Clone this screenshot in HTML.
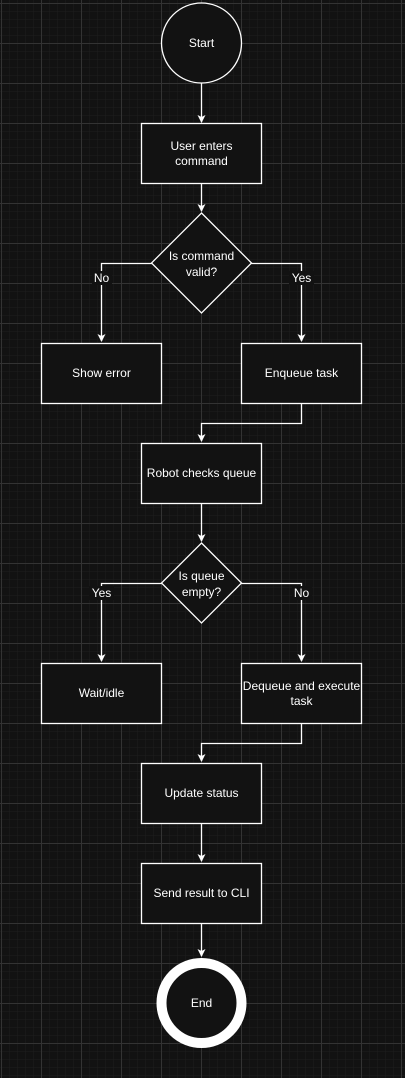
<!DOCTYPE html>
<html><head><meta charset="utf-8"><style>
html,body{margin:0;padding:0;background:#121212;}
svg{display:block}
text{font-family:"Liberation Sans",Arial,sans-serif;font-size:12px;fill:#fff;text-anchor:middle;}
</style></head><body>
<svg width="405" height="1078" viewBox="0 0 405 1078" xmlns="http://www.w3.org/2000/svg">
<defs>
<pattern id="minor" width="8" height="8" patternUnits="userSpaceOnUse" x="1" y="3">
<path d="M0 0H8M0 0V8" stroke="#1e1e1e" stroke-width="1" fill="none"/>
</pattern>
<pattern id="major" width="40" height="40" patternUnits="userSpaceOnUse" x="1" y="3">
<path d="M0 0.5H40M0.5 0V40" stroke="#333" stroke-width="1" fill="none"/>
</pattern>
<marker id="a" markerWidth="10" markerHeight="10" refX="7" refY="4" orient="auto" markerUnits="userSpaceOnUse">
<path d="M0 0L8 4L0 8L2 4Z" fill="#fff"/>
</marker>
</defs>
<rect width="405" height="1078" fill="#121212"/>
<rect width="405" height="1078" fill="url(#minor)"/>
<rect width="405" height="1078" fill="url(#major)"/>
<g stroke="#fff" stroke-width="1.3" fill="none">
<path d="M201.5 83V122" marker-end="url(#a)"/>
<path d="M201.5 184V211" marker-end="url(#a)"/>
<path d="M152 263.5H101.5V341" marker-end="url(#a)"/>
<path d="M251 263.5H301.5V341" marker-end="url(#a)"/>
<path d="M301.5 403V423.5H201.5V441" marker-end="url(#a)"/>
<path d="M201.5 503V541" marker-end="url(#a)"/>
<path d="M162 583.5H101.5V661" marker-end="url(#a)"/>
<path d="M241 583.5H301.5V661" marker-end="url(#a)"/>
<path d="M301.5 723V743.5H201.5V761" marker-end="url(#a)"/>
<path d="M201.5 823V861" marker-end="url(#a)"/>
<path d="M201.5 923V956" marker-end="url(#a)"/>
</g>
<g stroke="#fff" stroke-width="1.3" fill="#121212">
<circle cx="201.5" cy="43" r="40"/>
<rect x="141.5" y="123.5" width="120" height="60"/>
<path d="M201.5 213L251.5 263L201.5 313L151.5 263Z"/>
<rect x="41.5" y="343.5" width="120" height="60"/>
<rect x="241.5" y="343.5" width="120" height="60"/>
<rect x="141.5" y="443.5" width="120" height="60"/>
<path d="M201.5 543L241.5 583L201.5 623L161.5 583Z"/>
<rect x="41.5" y="663.5" width="120" height="60"/>
<rect x="241.5" y="663.5" width="120" height="60"/>
<rect x="141.5" y="763.5" width="120" height="60"/>
<rect x="141.5" y="863.5" width="120" height="60"/>
</g>
<circle cx="201.5" cy="1003" r="40" stroke="#fff" stroke-width="10" fill="#121212"/>
<g fill="#121212">
<rect x="92" y="271" width="20" height="14"/>
<rect x="289" y="271" width="25" height="14"/>
<rect x="89" y="586" width="25" height="14"/>
<rect x="292" y="586" width="20" height="14"/>
</g>
<text x="201.5" y="47">Start</text>
<text x="201.5" y="150">User enters</text>
<text x="201.5" y="165">command</text>
<text x="201.5" y="260">Is command</text>
<text x="201.5" y="276">valid?</text>
<text x="101.5" y="282">No</text>
<text x="301.5" y="282">Yes</text>
<text x="101.5" y="377">Show error</text>
<text x="301.5" y="377">Enqueue task</text>
<text x="201.5" y="477">Robot checks queue</text>
<text x="201.5" y="580">Is queue</text>
<text x="201.5" y="596">empty?</text>
<text x="101.5" y="597">Yes</text>
<text x="301.5" y="597">No</text>
<text x="101.5" y="697">Wait/idle</text>
<text x="301.5" y="690">Dequeue and execute</text>
<text x="301.5" y="705">task</text>
<text x="201.5" y="797">Update status</text>
<text x="201.5" y="897">Send result to CLI</text>
<text x="201.5" y="1007">End</text>
</svg>
</body></html>
